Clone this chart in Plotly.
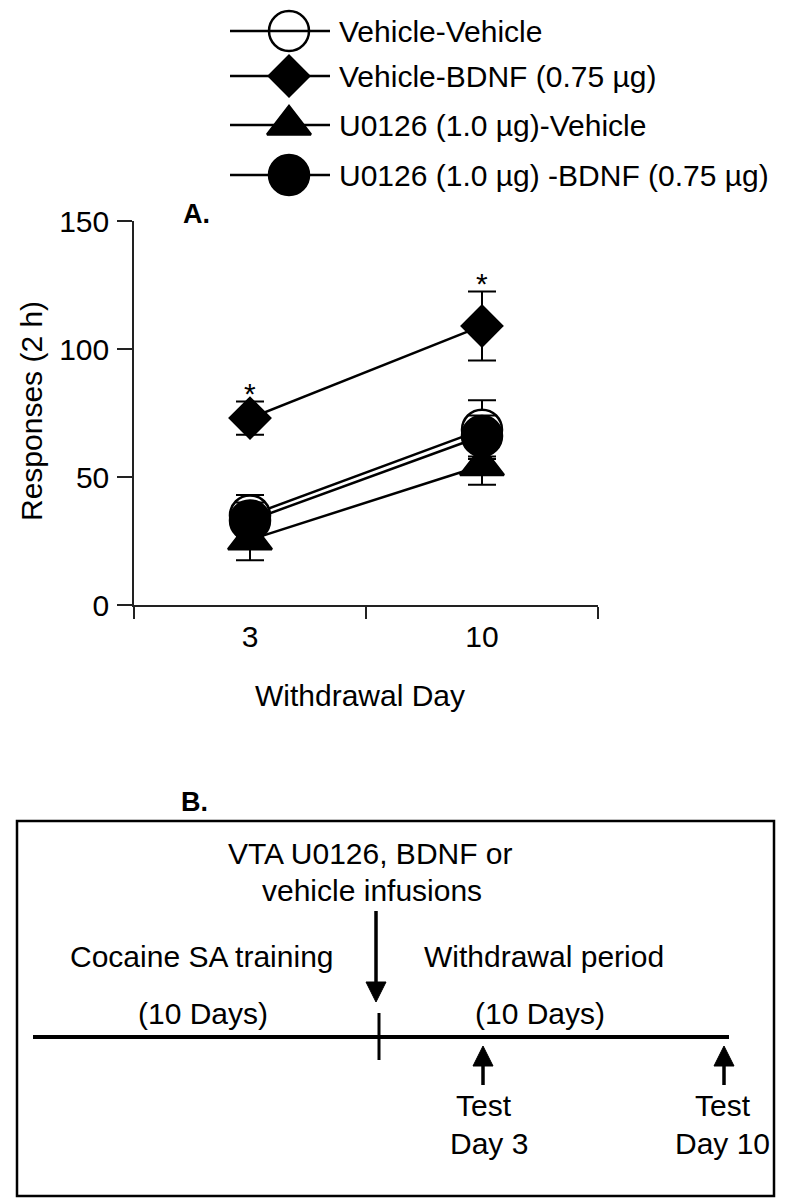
import plotly.graph_objects as go

# ---------------- data ----------------
days = ["3", "10"]
series_names = [
    "Vehicle-Vehicle",
    "Vehicle-BDNF (0.75 µg)",
    "U0126 (1.0 µg)-Vehicle",
    "U0126 (1.0 µg) -BDNF (0.75 µg)",
]
veh_veh = [35, 68.5]
veh_veh_sem = [8, 11.5]
veh_bdnf = [73, 109]
veh_bdnf_sem = [6.5, 13.5]
u0126_veh = [25.5, 54.5]
u0126_veh_sem = [8, 7.5]
u0126_bdnf = [33, 66]
u0126_bdnf_sem = [7, 8]
significant = [True, True]  # Vehicle-BDNF vs others at each day

y_ticks = [0, 50, 100, 150]

FONT = "Liberation Sans, Arial, sans-serif"
W, H = 792, 1199

styles = {
    series_names[0]: dict(symbol="circle", size=40, color="white"),
    series_names[1]: dict(symbol="diamond", size=31, color="black"),
    series_names[2]: dict(symbol="triangle-up", size=38, color="black"),
    series_names[3]: dict(symbol="circle", size=40, color="black"),
}
values = {
    series_names[0]: (veh_veh, veh_veh_sem),
    series_names[1]: (veh_bdnf, veh_bdnf_sem),
    series_names[2]: (u0126_veh, u0126_veh_sem),
    series_names[3]: (u0126_bdnf, u0126_bdnf_sem),
}
draw_order = [series_names[2], series_names[0], series_names[3], series_names[1]]

fig = go.Figure()
for name in draw_order:
    v, e = values[name]
    st = styles[name]
    fig.add_trace(go.Scatter(
        x=days, y=v, name=name, mode="lines+markers",
        line=dict(color="black", width=2.5),
        marker=dict(symbol=st["symbol"], size=st["size"], color=st["color"],
                    opacity=1, line=dict(color="black", width=2.5)),
        error_y=dict(type="data", array=e, visible=True, color="black",
                     thickness=2, width=14),
        showlegend=False, xaxis="x", yaxis="y",
    ))

# significance stars above Vehicle-BDNF (x given as category index)
for i, (v, e, s) in enumerate(zip(veh_bdnf, veh_bdnf_sem, significant)):
    if s:
        fig.add_annotation(x=i, y=v + e, xref="x", yref="y", text="*",
                           showarrow=False, yanchor="middle", yshift=8,
                           font=dict(family=FONT, size=30, color="black"))

# ---------------- overlay pixel frame for legend & panel B ----------------
legend_rows = [23, 68, 117, 167]
legend_marker_x = 281
for yr in legend_rows:
    fig.add_shape(type="line", xref="x2", yref="y2", x0=222, x1=322, y0=yr, y1=yr,
                  line=dict(color="black", width=2.5))
fig.add_trace(go.Scatter(
    x=[legend_marker_x] * 4, y=legend_rows, mode="markers",
    marker=dict(symbol=[styles[n]["symbol"] for n in series_names],
                size=[styles[n]["size"] for n in series_names],
                color=[styles[n]["color"] for n in series_names],
                opacity=1, line=dict(color="black", width=2.5)),
    showlegend=False, xaxis="x2", yaxis="y2", hoverinfo="skip",
))
for n, yr in zip(series_names, legend_rows):
    fig.add_annotation(x=329, y=yr, xref="x2", yref="y2", text=n, showarrow=False,
                       xanchor="left", yanchor="middle",
                       font=dict(family=FONT, size=30, color="black"))

def txt(x, y, t, size=30, bold=False, angle=0):
    fig.add_annotation(x=x, y=y, xref="x2", yref="y2",
                       text=f"<b>{t}</b>" if bold else t, showarrow=False,
                       xanchor="center", yanchor="middle", textangle=angle,
                       font=dict(family=FONT, size=size, color="black"))

# panel A labels
txt(188, 206, "A.", size=27, bold=True)
txt(23, 403, "Responses (2 h)", angle=-90)
txt(352, 687, "Withdrawal Day")

# panel B
txt(186, 794, "B.", size=27, bold=True)
fig.add_shape(type="rect", xref="x2", yref="y2", x0=9, x1=766, y0=813, y1=1188,
              line=dict(color="black", width=2.5))
txt(362, 845, "VTA U0126, BDNF or")
txt(364, 882, "vehicle infusions")
txt(194, 948, "Cocaine SA training")
txt(536, 948, "Withdrawal period")
txt(195, 1005, "(10 Days)")
txt(532, 1005, "(10 Days)")
# timeline
fig.add_shape(type="line", xref="x2", yref="y2", x0=25, x1=721, y0=1029, y1=1029,
              line=dict(color="black", width=4))
fig.add_shape(type="line", xref="x2", yref="y2", x0=371, x1=371, y0=1005, y1=1052,
              line=dict(color="black", width=3))
# down arrow
fig.add_shape(type="line", xref="x2", yref="y2", x0=368, x1=368, y0=903, y1=978,
              line=dict(color="black", width=3.5))
fig.add_shape(type="path", xref="x2", yref="y2",
              path="M 358 974 L 378 974 L 368 994 Z",
              fillcolor="black", line=dict(color="black", width=1))
# up arrows
for ax in [475, 716]:
    fig.add_shape(type="line", xref="x2", yref="y2", x0=ax, x1=ax, y0=1054, y1=1077,
                  line=dict(color="black", width=3.5))
    fig.add_shape(type="path", xref="x2", yref="y2",
                  path=f"M {ax-10} 1058 L {ax+10} 1058 L {ax} 1038 Z",
                  fillcolor="black", line=dict(color="black", width=1))
txt(476, 1097, "Test")
txt(481, 1135, "Day 3")
txt(715, 1097, "Test")
txt(714, 1135, "Day 10")

axis_color = "#222"
fig.update_layout(
    width=W, height=H,
    margin=dict(l=0, r=0, t=0, b=0),
    paper_bgcolor="white", plot_bgcolor="rgba(0,0,0,0)",
    font=dict(family=FONT, size=30, color="black"),
    xaxis=dict(
        domain=[126 / W, 590 / W], type="category", range=[-0.5, 1.5],
        tickson="boundaries", ticks="outside", ticklen=12, tickwidth=1.5,
        tickcolor=axis_color, showline=True, linecolor=axis_color, linewidth=1.5,
        showgrid=False, zeroline=False, tickfont=dict(size=30),
        ticklabelstandoff=4, fixedrange=True, automargin=False,
    ),
    yaxis=dict(
        domain=[1 - 597 / H, 1 - 213 / H], range=[0, 150], tickvals=y_ticks,
        ticks="outside", ticklen=15, tickwidth=1.5, tickcolor=axis_color,
        showline=True, linecolor=axis_color, linewidth=1.5,
        showgrid=False, zeroline=False, tickfont=dict(size=30),
        ticklabelstandoff=2, automargin=False,
    ),
    xaxis2=dict(domain=[0, 1], range=[0, W], visible=False, anchor="y2"),
    yaxis2=dict(domain=[0, 1], range=[H, 0], visible=False, anchor="x2"),
)

fig.write_html("out.html")
